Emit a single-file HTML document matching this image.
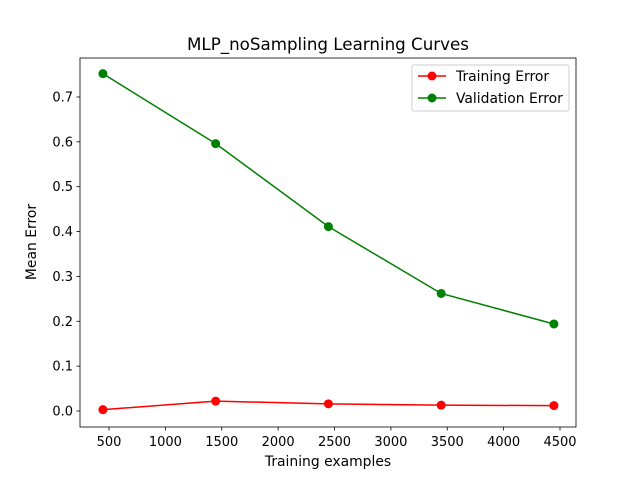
<!DOCTYPE html>
<html><head><meta charset="utf-8"><style>
body{margin:0;background:#fff;}
svg{display:block;font-family:"DejaVu Sans","Liberation Sans",sans-serif;}
</style></head><body>
<svg id="chart" width="640" height="480">
<rect x="0" y="0" width="640" height="480" fill="#fff"/>
<text x="328" y="50" font-size="16.7" text-anchor="middle">MLP_noSampling Learning Curves</text>
<g id="ticks"></g>
<g id="series"></g>
<rect x="80" y="58" width="496" height="369" fill="none" stroke="#000" stroke-width="0.8"/>
<text x="328" y="466" font-size="13.9" text-anchor="middle">Training examples</text>
<text transform="translate(36,242) rotate(-90)" font-size="13.9" text-anchor="middle">Mean Error</text>
<g>
<rect x="412" y="65" width="157" height="46" fill="#fff" stroke="#ccc" rx="2"/>
<g>
<line x1="418" y1="76" x2="446" y2="76" stroke="red" stroke-width="1.5"/><circle cx="432" cy="76" r="4.5" fill="red"/>
<text x="456" y="81" font-size="13.9">Training Error</text></g>
<g>
<line x1="418" y1="98" x2="446" y2="98" stroke="green" stroke-width="1.5"/><circle cx="432" cy="98" r="4.5" fill="green"/>
<text x="456" y="103" font-size="13.9">Validation Error</text></g>
</g>
</svg>
<script>
const sizes=[446,1446,2446,3446,4446];
const trainErr=[0.003,0.022,0.016,0.013,0.012];
const valErr=[0.752,0.596,0.411,0.262,0.194];
const xTicks=[500,1000,1500,2000,2500,3000,3500,4000,4500];
const yTicks=[0.0,0.1,0.2,0.3,0.4,0.5,0.6,0.7];
const NS="http://www.w3.org/2000/svg";
const xs=v=>109+(v-500)*0.11275;
const ys=v=>411-v*448.6;
function mk(t,a,p){const e=document.createElementNS(NS,t);for(const k in a)e.setAttribute(k,a[k]);p.appendChild(e);return e;}
const tg=document.getElementById('ticks');
xTicks.forEach(v=>{const x=xs(v);
const l=mk('line',{x1:x,y1:427,x2:x,y2:430.5,stroke:'#000','stroke-width':0.8},tg);


const t=mk('text',{x:x,y:446,'font-size':13,'text-anchor':'middle'},tg);t.textContent=v;

});
yTicks.forEach(v=>{const y=ys(v);
const l=mk('line',{x1:76.5,y1:y,x2:80,y2:y,stroke:'#000','stroke-width':0.8},tg);


const t=mk('text',{x:73,y:y+4.5,'font-size':13,'text-anchor':'end'},tg);t.textContent=v.toFixed(1);

});
const sg=document.getElementById('series');
[[trainErr,'red','training'],[valErr,'green','validation']].forEach(([d,c,n])=>{
const pts=d.map((v,i)=>xs(sizes[i])+','+ys(v)).join(' ');
const pl=mk('polyline',{points:pts,fill:'none',stroke:c,'stroke-width':1.5},sg);


d.forEach((v,i)=>{const ci=mk('circle',{cx:xs(sizes[i]),cy:ys(v),r:4.5,fill:c},sg);

});
});
</script>
</body></html>
